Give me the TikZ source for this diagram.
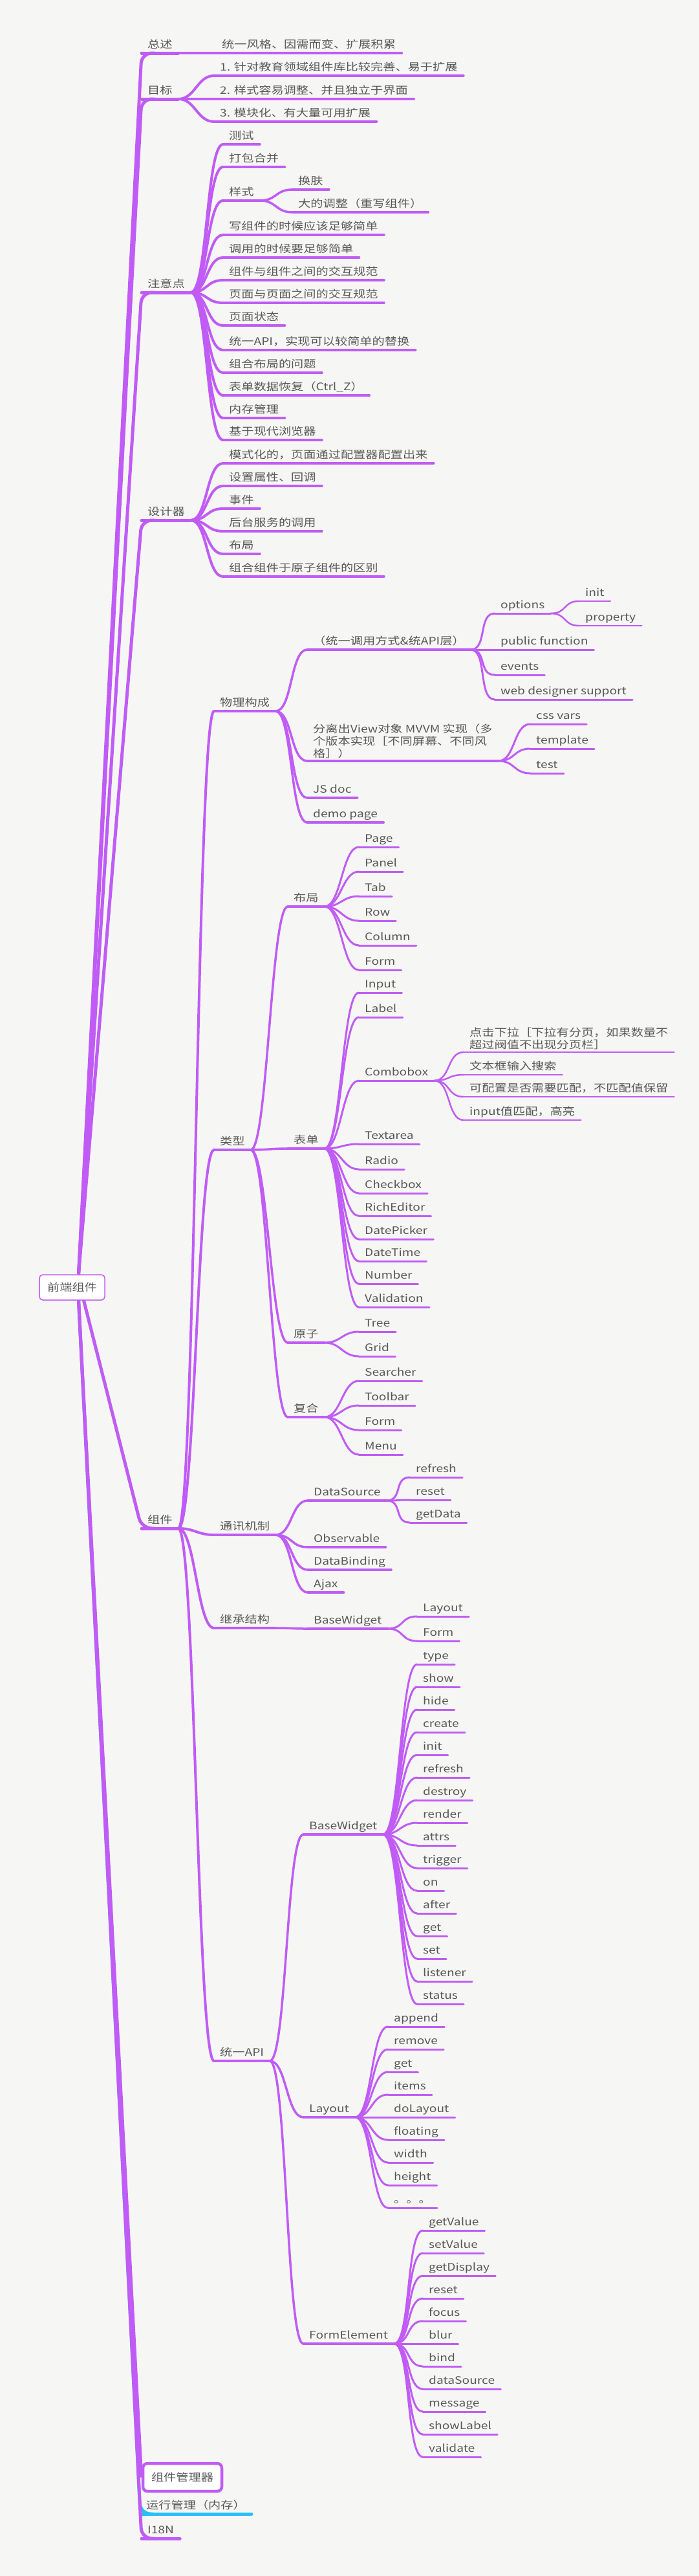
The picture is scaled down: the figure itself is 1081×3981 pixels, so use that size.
\documentclass[tikz,border=0pt]{standalone}
\usepackage{fontspec}
\setmainfont{Noto Sans CJK SC}[FakeStretch=1.2]
\usepackage{xcolor}
\usepackage{tikz}

\definecolor{mmpurple}{RGB}{192,92,245}
\definecolor{mmcyan}{RGB}{38,190,252}
\definecolor{mmink}{RGB}{88,88,88}
\definecolor{mmpaper}{RGB}{246,247,244}

% a branch: line style, parent, name, x, y, label
\newcommand{\twig}[6]{%
  \node[lbl] (#3) at (#4,#5) {#6};
  \draw[#1] (#3.south west) -- (#3.south east);
  \draw[#1] (#2.south east) to[link] (#3.south west);}

\begin{document}
\begin{tikzpicture}[x=1pt, y=-1pt,
  lbl/.style={anchor=south west, inner xsep=9pt, inner ysep=4pt,
    text height=12pt, text depth=3.5pt, text=mmink,
    font=\fontsize{16}{19}\selectfont},
  d1/.style={draw=mmpurple, line width=5pt, line cap=round},
  d2/.style={draw=mmpurple, line width=4pt, line cap=round},
  d3/.style={draw=mmpurple, line width=3.5pt, line cap=round},
  d4/.style={draw=mmpurple, line width=3pt, line cap=round},
  d5/.style={draw=mmpurple, line width=2.5pt, line cap=round},
  link/.style={to path={.. controls +(26,0) and +(-26,0) .. (\tikztotarget)}},
  trunk/.style={line width=5pt, rounded corners=16pt}]
  \useasboundingbox (0,0) rectangle (1081,3981);
  \fill[mmpaper] (0,0) rectangle (1081,3981);

  % root
  \node[draw=mmpurple, line width=1.5pt, fill=white, rounded corners=5pt,
    minimum width=101pt, minimum height=39pt, inner sep=0pt, text=mmink,
    font=\fontsize{16}{19}\selectfont] (root) at (111.5,1989.5) {前端组件};

  % first level
  \node[lbl] (zs) at (219,82) {总述};
  \node[lbl] (mb) at (219,153) {目标};
  \node[lbl] (zy) at (219,452) {注意点};
  \node[lbl] (sj) at (219,804) {设计器};
  \node[lbl] (zj) at (219,2362) {组件};
  \node[draw=mmpurple, line width=4.5pt, fill=white, rounded corners=7pt,
    minimum width=122pt, minimum height=43pt, inner sep=0pt, text=mmink,
    font=\fontsize{16}{19}\selectfont] (gl) at (282,3828.5) {组件管理器};
  \node[lbl] (yx) at (217,3885) {运行管理（内存）};
  \node[lbl] (i18) at (219,3923) {I18N};
  \foreach \n in {zs,mb,zy,sj} {
    \draw[d1] (\n.south west) -- (\n.south east);
    \draw[trunk, draw=mmpurple] ([xshift=10pt]root.north) -- (\n.south west) -- ([xshift=20pt]\n.south west);
  }
  \draw[d1] (zj.south west) -- (zj.south east);
  \draw[trunk, draw=mmpurple] ([xshift=18pt]root.south) -- (zj.south west) -- ([xshift=20pt]zj.south west);
  \draw[trunk, draw=mmcyan] ([xshift=10pt]root.south) -- (yx.south west) -- ([xshift=20pt]yx.south west);
  \draw[d1, draw=mmcyan] (yx.south west) -- (yx.south east);
  \draw[trunk, draw=mmpurple] ([xshift=10pt]root.south) -- (gl.west);
  \draw[d1] (i18.south west) -- (i18.south east);
  \draw[trunk, draw=mmpurple] ([xshift=10pt]root.south) -- (i18.south west) -- ([xshift=20pt]i18.south west);

  % 总述, 目标
  \twig{d2}{zs}{zs1}{334}{82}{统一风格、因需而变、扩展积累}
  \foreach \y/\t [count=\i] in {117/1. 针对教育领域组件库比较完善、易于扩展,
      153/2. 样式容易调整、并且独立于界面, 188/3. 模块化、有大量可用扩展}
    {\twig{d2}{mb}{mb\i}{331}{\y}{\t}}

  % 注意点
  \foreach \y/\t [count=\i] in {223/测试, 258/打包合并, 310/样式,
      363/写组件的时候应该足够简单, 398/调用的时候要足够简单,
      433/组件与组件之间的交互规范, 468/页面与页面之间的交互规范, 503/页面状态,
      541/统一API，实现可以较简单的替换, 576/组合布局的问题,
      611/表单数据恢复（Ctrl\_Z）, 646/内存管理, 680/基于现代浏览器}
    {\twig{d2}{zy}{zy\i}{345}{\y}{\t}}
  \twig{d3}{zy3}{ys1}{452}{293}{换肤}
  \twig{d3}{zy3}{ys2}{452}{328}{大的调整（重写组件）}

  % 设计器
  \foreach \y/\t [count=\i] in {716/模式化的，页面通过配置器配置出来,
      751/设置属性、回调, 786/事件, 821/后台服务的调用, 856/布局,
      891/组合组件于原子组件的区别}
    {\twig{d2}{sj}{sj\i}{345}{\y}{\t}}

  % 组件
  \twig{d2}{zj}{wl}{331}{1099}{物理构成}
  \twig{d2}{zj}{lx}{331}{1777}{类型}
  \twig{d2}{zj}{tx}{331}{2372}{通讯机制}
  \twig{d2}{zj}{jc}{331}{2516}{继承结构}
  \twig{d2}{zj}{api}{331}{3185}{统一API}

  % 物理构成
  \twig{d3}{wl}{wl1}{475}{1004}{（统一调用方式\&统API层）}
  \node[lbl, align=left, text height=, text depth=] (wl2) at (475,1176)
    {分离出View对象 MVVM 实现（多\\个版本实现［不同屏幕、不同风\\格］）};
  \draw[d3] (wl2.south west) -- (wl2.south east);
  \draw[d3] (wl.south east) to[link] (wl2.south west);
  \twig{d3}{wl}{wl3}{475}{1233}{JS doc}
  \twig{d3}{wl}{wl4}{475}{1271}{demo page}
  \foreach \y/\t [count=\i] in {948/options, 1004/public function, 1043/events,
      1081/web designer support}
    {\twig{d4}{wl1}{api\i}{765}{\y}{\t}}
  \twig{d5}{api1}{op1}{896}{929}{init}
  \twig{d5}{api1}{op2}{896}{967}{property}
  \foreach \y/\t [count=\i] in {1119/css vars, 1157/template, 1195/test}
    {\twig{d4}{wl2}{mv\i}{820}{\y}{\t}}

  % 类型
  \twig{d3}{lx}{bj}{445}{1401}{布局}
  \twig{d3}{lx}{bd}{445}{1775}{表单}
  \twig{d3}{lx}{yz}{445}{2075}{原子}
  \twig{d3}{lx}{fh}{445}{2190}{复合}
  \foreach \t [count=\i] in {Page, Panel, Tab, Row, Column, Form}
    {\twig{d4}{bj}{bj\i}{555}{1271+38*\i}{\t}}
  \foreach \y/\t [count=\i] in {1534/Input, 1572/Label, 1670/Combobox,
      1768/Textarea, 1807/Radio, 1844/Checkbox, 1879/RichEditor,
      1915/DatePicker, 1949/DateTime, 1984/Number, 2020/Validation}
    {\twig{d4}{bd}{bd\i}{555}{\y}{\t}}
  \node[lbl, align=left, text height=, text depth=] (cb1) at (717,1626)
    {点击下拉［下拉有分页，如果数量不\\超过阀值不出现分页栏］};
  \draw[d5] (cb1.south west) -- (cb1.south east);
  \draw[d5] (bd3.south east) to[link] (cb1.south west);
  \twig{d5}{bd3}{cb2}{717}{1661}{文本框输入搜索}
  \twig{d5}{bd3}{cb3}{717}{1695}{可配置是否需要匹配，不匹配值保留}
  \twig{d5}{bd3}{cb4}{717}{1731}{input值匹配，高亮}
  \twig{d4}{yz}{yz1}{555}{2058}{Tree}
  \twig{d4}{yz}{yz2}{555}{2096}{Grid}
  \foreach \t [count=\i] in {Searcher, Toolbar, Form, Menu}
    {\twig{d4}{fh}{fh\i}{555}{2096+38*\i}{\t}}

  % 通讯机制, 继承结构
  \twig{d3}{tx}{ds}{476}{2319}{DataSource}
  \twig{d3}{tx}{tx2}{476}{2391}{Observable}
  \twig{d3}{tx}{tx3}{476}{2426}{DataBinding}
  \twig{d3}{tx}{tx4}{476}{2461}{Ajax}
  \foreach \t [count=\i] in {refresh, reset, getData}
    {\twig{d4}{ds}{ds\i}{634}{2248+35*\i}{\t}}
  \twig{d3}{jc}{jbw}{476}{2517}{BaseWidget}
  \twig{d4}{jbw}{jbw1}{645}{2498}{Layout}
  \twig{d4}{jbw}{jbw2}{645}{2536}{Form}

  % 统一API
  \twig{d3}{api}{abw}{469}{2835}{BaseWidget}
  \twig{d3}{api}{aly}{469}{3272}{Layout}
  \twig{d3}{api}{afe}{469}{3622}{FormElement}
  \foreach \t [count=\i] in {type, show, hide, create, init, refresh, destroy,
      render, attrs, trigger, on, after, get, set, listener, status}
    {\twig{d4}{abw}{abw\i}{645}{2537+35*\i}{\t}}
  \foreach \t [count=\i] in {append, remove, get, items, doLayout, floating,
      width, height, 。。。}
    {\twig{d4}{aly}{aly\i}{600}{3097+35*\i}{\t}}
  \foreach \t [count=\i] in {getValue, setValue, getDisplay, reset, focus, blur,
      bind, dataSource, message, showLabel, validate}
    {\twig{d4}{afe}{afe\i}{654}{3412+35*\i}{\t}}
\end{tikzpicture}
\end{document}
